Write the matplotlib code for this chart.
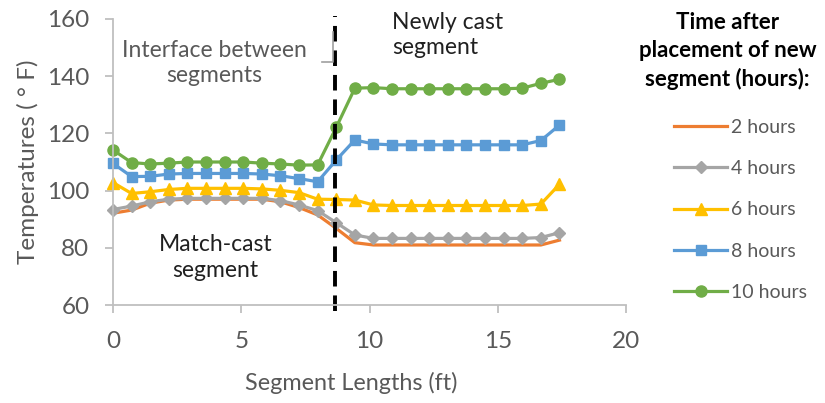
import numpy as np
import matplotlib
matplotlib.use("Agg")
import matplotlib.pyplot as plt
from matplotlib.lines import Line2D

plt.rcParams['font.family'] = ['Lato', 'DejaVu Sans']

# segment positions (ft), 25 gauges at equal spacing
length = np.linspace(0, 17.4, 25)

temp_2h = [92.1, 93.2, 95.6, 96.7, 97.0, 97.0, 97.0, 97.0, 97.0, 96.1, 94.1, 91.5, 86.8,
           81.8, 81.0, 81.0, 81.0, 81.0, 81.0, 81.0, 81.0, 81.0, 81.0, 81.0, 82.7]
temp_4h = [93.4, 94.6, 96.1, 97.0, 97.3, 97.3, 97.3, 97.3, 97.3, 96.5, 95.0, 93.0, 88.8,
           84.5, 83.3, 83.3, 83.3, 83.3, 83.3, 83.3, 83.3, 83.3, 83.3, 83.6, 85.3]
temp_6h = [102.8, 99.0, 99.6, 100.4, 100.8, 100.8, 100.8, 100.8, 100.6, 100.1, 99.3, 97.0, 96.9,
           96.7, 95.0, 94.8, 94.8, 94.8, 94.8, 94.8, 94.8, 94.8, 94.8, 95.3, 102.2]
temp_8h = [109.5, 104.9, 105.0, 105.8, 106.0, 106.0, 106.0, 106.0, 105.8, 105.2, 104.2, 103.1, 110.7,
           117.7, 116.3, 116.0, 116.0, 116.0, 116.0, 116.0, 116.0, 116.0, 116.0, 117.5, 122.9]
temp_10h = [114.2, 109.8, 109.3, 109.6, 110.0, 110.0, 110.0, 110.0, 109.6, 109.3, 108.9, 109.0, 122.1,
            135.8, 136.0, 135.6, 135.6, 135.6, 135.6, 135.6, 135.6, 135.6, 135.8, 137.5, 138.9]

labels = ['2 hours', '4 hours', '6 hours', '8 hours', '10 hours']
colors = ['#ED7D31', '#A5A5A5', '#FFC000', '#5B9BD5', '#70AD47']
markers = [None, 'D', '^', 's', 'o']
msizes = [0, 6.5, 8, 7.5, 8]
series = [temp_2h, temp_4h, temp_6h, temp_8h, temp_10h]

interface_x = 8.65

fig = plt.figure(figsize=(8.25, 4.03), dpi=100)
ax = fig.add_axes([0.137, 0.243, 0.622, 0.710])

for y, lab, c, m, ms in zip(series, labels, colors, markers, msizes):
    ax.plot(length, y, color=c, lw=2.3, marker=m, markersize=ms, label=lab, clip_on=False)

ax.axvline(interface_x, ymin=-0.02, ymax=1.01, color='black', lw=2.8, ls=(0, (4, 2.3)), clip_on=False)

ax.set_xlim(0, 20)
ax.set_ylim(60, 160)
ax.set_xticks([0, 5, 10, 15, 20])
ax.set_yticks([60, 80, 100, 120, 140, 160])

grey = '#595959'
for s in ['top', 'right']:
    ax.spines[s].set_visible(False)
for s in ['left', 'bottom']:
    ax.spines[s].set_color('#BFBFBF')
    ax.spines[s].set_linewidth(1.3)
ax.tick_params(axis='both', colors='#BFBFBF', labelcolor=grey, labelsize=17.5, width=1.3, length=6)
ax.tick_params(axis='x', pad=13)
ax.tick_params(axis='y', pad=11)

ax.set_xlabel('Segment Lengths (ft)', fontsize=16.8, color=grey)
ax.xaxis.set_label_coords(0.464, -0.232)
ax.set_ylabel('Temperatures ( ° F)', fontsize=17.5, color=grey, labelpad=6)

# annotations
ax.text(3.94, 144.5, 'Interface between\nsegments', ha='center', va='center', fontsize=16.5,
        color=grey, linespacing=1.25)
ax.text(10.88, 154.3, 'Newly cast\nsegment', ha='left', va='center', fontsize=16.5,
        color='#202020', linespacing=1.25)
ax.text(4.0, 76.6, 'Match-cast\nsegment', ha='center', va='center', fontsize=16.5,
        color='#202020', linespacing=1.25)
ax.plot([8.15, 8.58, 8.58], [145.0, 145.0, 155.5], color='#A0A0A0', lw=1.2, clip_on=False)

# legend
handles = [Line2D([0], [0], color=c, lw=2.3, marker=m, markersize=ms)
           for c, m, ms in zip(colors, markers, msizes)]
fig.text(0.882, 0.873, 'Time after\nplacement of new\nsegment (hours):', ha='center', va='center',
         fontsize=16, fontweight='bold', color='black', linespacing=1.4)
leg = fig.legend(handles, labels, loc='upper left', bbox_to_anchor=(0.812, 0.715), frameon=False,
                 fontsize=14, labelspacing=1.25, handlelength=2.75, handletextpad=0.2,
                 borderaxespad=0, borderpad=0.2)
for t in leg.get_texts():
    t.set_color(grey)

fig.savefig('out.png', dpi=100)
